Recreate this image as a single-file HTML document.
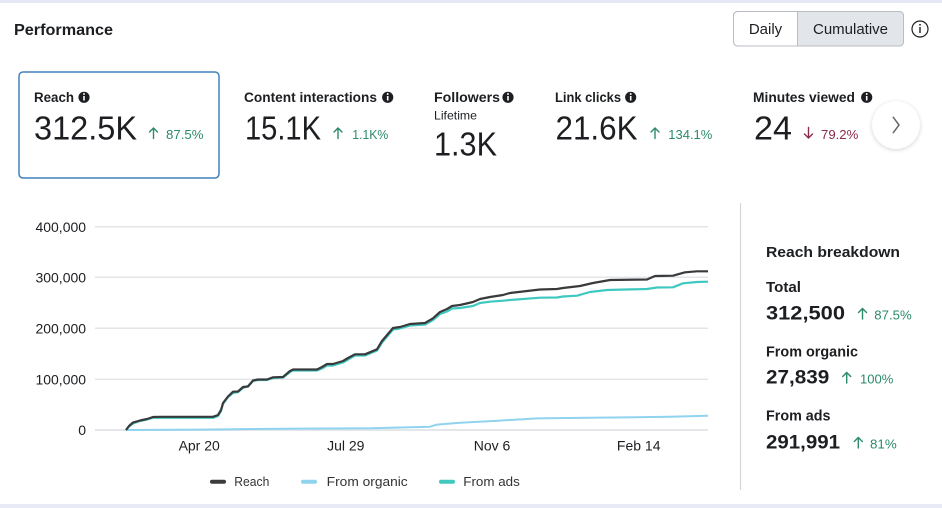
<!DOCTYPE html>
<html><head><meta charset="utf-8"><style>
html,body{margin:0;padding:0;background:#fff;}
svg{display:block;font-family:"Liberation Sans",Arial,sans-serif;}
</style></head><body>
<svg width="942" height="508" viewBox="0 0 942 508" xmlns="http://www.w3.org/2000/svg">
<defs>
<filter id="sh" x="-50%" y="-50%" width="200%" height="200%"><feDropShadow dx="0" dy="1" stdDeviation="2" flood-color="#000" flood-opacity="0.18"/></filter>
</defs>
<rect x="0" y="0" width="942" height="508" fill="#fff"/>
<rect x="0" y="0" width="942" height="3" fill="#e6e8f5"/>
<rect x="0" y="504" width="942" height="4" fill="#e8ebf5"/>

<text x="14" y="35" font-size="16" font-weight="bold" fill="#1c1e21" textLength="99" lengthAdjust="spacingAndGlyphs">Performance</text>

<!-- toggle -->
<rect x="733.5" y="11.5" width="170" height="34.5" rx="4" fill="#fff" stroke="#b8bdc4"/>
<path d="M797.5,12 H899.5 A3.5,3.5 0 0 1 903,15.5 V42.5 A3.5,3.5 0 0 1 899.5,45.5 H797.5 Z" fill="#e2e5ea"/>
<rect x="733.5" y="11.5" width="170" height="34.5" rx="4" fill="none" stroke="#b8bdc4"/>
<line x1="797.5" y1="12" x2="797.5" y2="46" stroke="#b8bdc4"/>
<text x="765.5" y="34" font-size="15" fill="#1c1e21" text-anchor="middle">Daily</text>
<text x="850.5" y="34" font-size="15" fill="#1c1e21" text-anchor="middle" textLength="75" lengthAdjust="spacingAndGlyphs">Cumulative</text>
<circle cx="920" cy="29" r="8" fill="none" stroke="#1c1e21" stroke-width="1.2"/>
<rect x="919.3" y="27" width="1.4" height="6" fill="#1c1e21"/>
<circle cx="920" cy="24.8" r="0.9" fill="#1c1e21"/>

<!-- selected card -->
<rect x="19" y="72" width="200" height="106" rx="4" fill="#fff" stroke="#4281bb" stroke-width="1.5"/>

<!-- card labels -->
<g font-size="13.5" font-weight="bold" fill="#1c1e21">
<text x="34" y="102" textLength="40" lengthAdjust="spacingAndGlyphs">Reach</text>
<text x="244" y="102" textLength="133" lengthAdjust="spacingAndGlyphs">Content interactions</text>
<text x="434" y="102" textLength="66" lengthAdjust="spacingAndGlyphs">Followers</text>
<text x="555" y="102" textLength="66" lengthAdjust="spacingAndGlyphs">Link clicks</text>
<text x="753" y="102" textLength="102" lengthAdjust="spacingAndGlyphs">Minutes viewed</text>
</g>
<!-- filled info icons -->
<g fill="#1c1e21">
<circle cx="84" cy="97.3" r="5.6"/><circle cx="387.7" cy="97.3" r="5.6"/><circle cx="508" cy="97.3" r="5.6"/><circle cx="630.7" cy="97.3" r="5.6"/><circle cx="866.7" cy="97.3" r="5.6"/>
</g>
<g fill="#fff">
<rect x="83.2" y="96" width="1.6" height="4.5"/><circle cx="84" cy="94" r="0.95"/>
<rect x="386.9" y="96" width="1.6" height="4.5"/><circle cx="387.7" cy="94" r="0.95"/>
<rect x="507.2" y="96" width="1.6" height="4.5"/><circle cx="508" cy="94" r="0.95"/>
<rect x="629.9" y="96" width="1.6" height="4.5"/><circle cx="630.7" cy="94" r="0.95"/>
<rect x="865.9" y="96" width="1.6" height="4.5"/><circle cx="866.7" cy="94" r="0.95"/>
</g>
<text x="434" y="119.5" font-size="12" fill="#1c1e21" textLength="43" lengthAdjust="spacingAndGlyphs">Lifetime</text>

<!-- values -->
<g font-size="33" fill="#1c1e21">
<text x="34" y="139.3" textLength="103" lengthAdjust="spacingAndGlyphs">312.5K</text>
<text x="245" y="139.3" textLength="76" lengthAdjust="spacingAndGlyphs">15.1K</text>
<text x="434" y="155.3" textLength="63" lengthAdjust="spacingAndGlyphs">1.3K</text>
<text x="555.5" y="139.3" textLength="82" lengthAdjust="spacingAndGlyphs">21.6K</text>
<text x="754" y="139.3" textLength="38" lengthAdjust="spacingAndGlyphs">24</text>
</g>
<!-- pcts -->
<g font-size="13" fill="#2c8a69">
<text x="166" y="139" textLength="37.5" lengthAdjust="spacingAndGlyphs">87.5%</text>
<text x="352.3" y="139" textLength="36" lengthAdjust="spacingAndGlyphs">1.1K%</text>
<text x="668.3" y="139" textLength="44" lengthAdjust="spacingAndGlyphs">134.1%</text>
</g>
<text x="821" y="139" font-size="13" fill="#8a2b47" textLength="37.3" lengthAdjust="spacingAndGlyphs">79.2%</text>
<g fill="none" stroke="#2c8a69" stroke-width="1.4" stroke-linecap="round" stroke-linejoin="round">
<path d="M153.5,138.5 V128 M149.5,132 L153.5,128 L157.5,132"/>
<path d="M338,138.5 V128 M334,132 L338,128 L342,132"/>
<path d="M655,138.5 V128 M651,132 L655,128 L659,132"/>
</g>
<path d="M808.5,127.5 V138 M804.5,134 L808.5,138 L812.5,134" fill="none" stroke="#8a2b47" stroke-width="1.4" stroke-linecap="round" stroke-linejoin="round"/>

<!-- next button -->
<circle cx="896" cy="125" r="23.8" fill="#fff" filter="url(#sh)"/>
<path d="M893.3,117.3 L899,125 L893.3,132.7" fill="none" stroke="#65676b" stroke-width="1.5" stroke-linecap="round" stroke-linejoin="round"/>

<!-- chart grid -->
<g stroke="#e3e5e8" stroke-width="1.5">
<line x1="95" y1="226.7" x2="708" y2="226.7"/>
<line x1="95" y1="277.3" x2="708" y2="277.3"/>
<line x1="95" y1="328.3" x2="708" y2="328.3"/>
<line x1="95" y1="379.3" x2="708" y2="379.3"/>
</g>
<line x1="95" y1="430" x2="708" y2="430" stroke="#e4e6ea" stroke-width="2"/>
<g font-size="14" fill="#1c1e21" text-anchor="end">
<text x="86" y="232" textLength="50.5" lengthAdjust="spacingAndGlyphs">400,000</text>
<text x="86" y="282.5" textLength="50.5" lengthAdjust="spacingAndGlyphs">300,000</text>
<text x="86" y="333.5" textLength="50.5" lengthAdjust="spacingAndGlyphs">200,000</text>
<text x="86" y="384.5" textLength="50.5" lengthAdjust="spacingAndGlyphs">100,000</text>
<text x="86" y="435.2">0</text>
</g>
<g font-size="14" fill="#1c1e21" text-anchor="middle">
<text x="199.2" y="450.5">Apr 20</text>
<text x="345.8" y="450.5">Jul 29</text>
<text x="492" y="450.5">Nov 6</text>
<text x="638.7" y="450.5">Feb 14</text>
</g>

<!-- series -->
<path d="M126,430 L200,429.6 L300,428.6 L370,428.3 L430,426.7 L437,424.6 L460,422.8 L500,420.6 L523,419.2 L537,418.4 L600,417.6 L670,416.8 L708,415.8" fill="none" stroke="#8fd3ef" stroke-width="2" stroke-linejoin="round"/>
<path d="M126,430 L129,426.5 L133,423.5 L140,421 L147,419.5 L153,417.8 L213,417.8 L218,416 L221,411 L223,404 L228,397 L233,393 L238,392 L243,388 L248,386 L253,381 L258,380 L267,380 L273,378 L283,377.5 L290,372 L293,370.5 L317,370.5 L322,368.5 L327,365.5 L333,365.5 L343,362.5 L348,359.5 L355,355.5 L365,355.5 L377,350.5 L382,342.5 L393,329.5 L400,328.5 L410,325.5 L425,324.5 L433,320 L440,314 L447,311.5 L452,308.5 L460,308 L473,306 L480,303 L490,301.7 L503,300.7 L510,300 L540,297.7 L557,297.5 L563,296.5 L577,295.7 L590,292 L607,290 L647,289 L657,287.5 L673,287.3 L683,283.3 L697,282 L708,281.7" fill="none" stroke="#3fc8c0" stroke-width="2.2" stroke-linejoin="round"/>
<path d="M126,430 L129,426 L133,422.5 L140,420.5 L147,419 L153,417 L160,416.8 L213,416.8 L218,415 L221,410 L223,403 L228,396.5 L233,391.7 L238,391.5 L243,387 L248,386.5 L253,380.5 L258,379.5 L267,379.5 L273,377.3 L283,377 L290,371 L293,369.5 L317,369.5 L322,367 L327,364 L333,364 L343,361 L348,358 L355,354.3 L365,354.3 L377,349.3 L382,341 L393,328 L400,327 L410,324 L425,323 L433,318.3 L440,312 L447,309 L452,306 L460,305 L473,302 L480,299 L490,297 L503,295 L510,293 L540,289.5 L557,289 L563,288 L580,286 L593,283 L610,280 L647,279.5 L655,276 L673,275.7 L685,272.3 L697,271.3 L708,271.3" fill="none" stroke="#383a3c" stroke-width="2.2" stroke-linejoin="round"/>

<!-- legend -->
<g stroke-width="4" stroke-linecap="round">
<line x1="212" y1="481.7" x2="224" y2="481.7" stroke="#3a3b3c"/>
<line x1="303" y1="481.7" x2="315" y2="481.7" stroke="#8fd3ef"/>
<line x1="441" y1="481.7" x2="453" y2="481.7" stroke="#3fc8c0"/>
</g>
<g font-size="13" fill="#333">
<text x="234.3" y="486" textLength="35" lengthAdjust="spacingAndGlyphs">Reach</text>
<text x="326.7" y="486" textLength="81" lengthAdjust="spacingAndGlyphs">From organic</text>
<text x="463.3" y="486" textLength="56.5" lengthAdjust="spacingAndGlyphs">From ads</text>
</g>

<!-- divider -->
<line x1="740.5" y1="203" x2="740.5" y2="490" stroke="#d3d6db" stroke-width="1.2"/>

<!-- breakdown -->
<text x="766" y="257" font-size="15" font-weight="bold" fill="#1c1e21" textLength="134" lengthAdjust="spacingAndGlyphs">Reach breakdown</text>
<g font-size="14.5" font-weight="bold" fill="#1c1e21">
<text x="766" y="292" textLength="35" lengthAdjust="spacingAndGlyphs">Total</text>
<text x="766" y="356.5" textLength="92" lengthAdjust="spacingAndGlyphs">From organic</text>
<text x="766" y="420.5" textLength="64.5" lengthAdjust="spacingAndGlyphs">From ads</text>
</g>
<g font-size="19.5" font-weight="bold" fill="#1c1e21">
<text x="766" y="319.5" textLength="79" lengthAdjust="spacingAndGlyphs">312,500</text>
<text x="766" y="383.5" textLength="63.3" lengthAdjust="spacingAndGlyphs">27,839</text>
<text x="766" y="448.5" textLength="74" lengthAdjust="spacingAndGlyphs">291,991</text>
</g>
<g font-size="13" fill="#2c8a69">
<text x="874.3" y="319.5" textLength="37.4" lengthAdjust="spacingAndGlyphs">87.5%</text>
<text x="860" y="383.5" textLength="33.3" lengthAdjust="spacingAndGlyphs">100%</text>
<text x="870" y="448.5" textLength="26.7" lengthAdjust="spacingAndGlyphs">81%</text>
</g>
<g fill="none" stroke="#2c8a69" stroke-width="1.4" stroke-linecap="round" stroke-linejoin="round">
<path d="M862.5,319 V308.5 M858.5,312.5 L862.5,308.5 L866.5,312.5"/>
<path d="M846.7,383 V372.5 M842.7,376.5 L846.7,372.5 L850.7,376.5"/>
<path d="M858.3,448 V437.5 M854.3,441.5 L858.3,437.5 L862.3,441.5"/>
</g>
</svg>
</body></html>
